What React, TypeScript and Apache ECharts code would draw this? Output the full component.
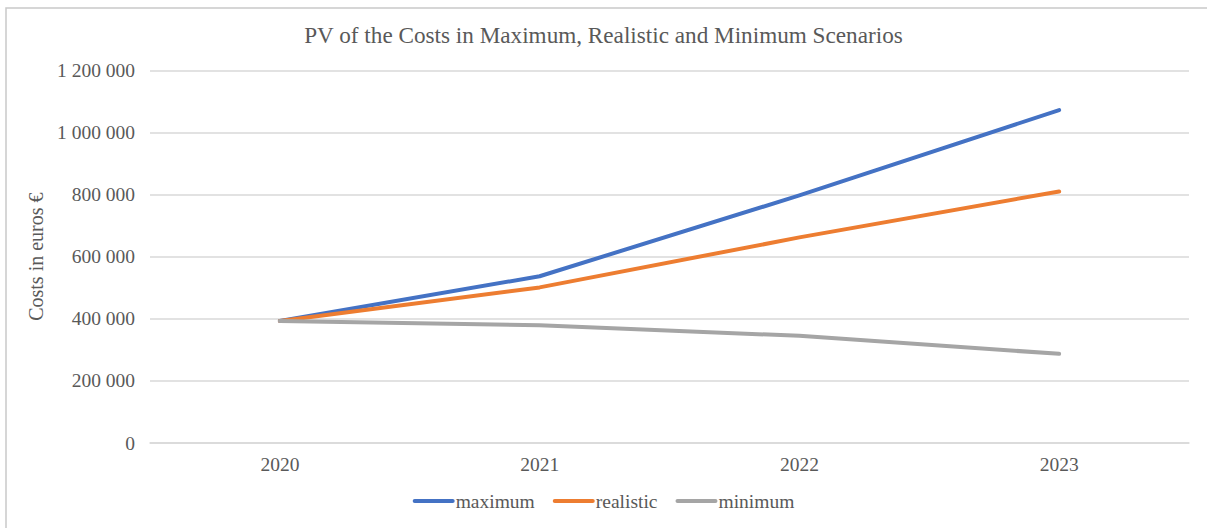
import React, { useEffect, useRef } from "react";
import * as echarts from "echarts";

const years = ["2020", "2021", "2022", "2023"];
const maximum = [393000, 537000, 797000, 1072000];
const realistic = [393000, 501000, 662000, 810000];
const minimum = [393000, 379000, 345000, 287000];

const FONT = "'Liberation Serif', 'Times New Roman', serif";
const TEXT = "#595959";

function spaced(v: number): string {
  return String(v).replace(/\B(?=(\d{3})+(?!\d))/g, " ");
}

export default function App() {
  const ref = useRef<HTMLDivElement>(null);

  useEffect(() => {
    if (!ref.current) return;
    const chart = echarts.init(ref.current, undefined, { renderer: "svg" });
    const line = (name: string, data: number[], color: string) => ({
      name,
      type: "line",
      data,
      symbol: "none",
      color,
      lineStyle: { width: 4, color, cap: "round", join: "round" },
    });
    chart.setOption({
      animation: false,
      backgroundColor: "#ffffff",
      textStyle: { fontFamily: FONT },
      title: {
        text: "PV of the Costs in Maximum, Realistic and Minimum Scenarios",
        left: "center",
        top: 18,
        textStyle: { fontFamily: FONT, fontSize: 23.2, fontWeight: "normal", color: TEXT },
      },
      graphic: [
        {
          type: "rect",
          shape: { x: 6, y: 8, width: 1300, height: 600 },
          style: { fill: "none", stroke: "#C9C9C9", lineWidth: 1.5 },
          silent: true,
        },
      ],
      grid: { left: 150, right: 18, top: 70.3, bottom: 85 },
      legend: {
        bottom: 12,
        left: "center",
        itemWidth: 38,
        itemHeight: 14,
        itemGap: 18,
        itemStyle: { opacity: 0 },
        lineStyle: { width: 4, cap: "round" },
        textStyle: { fontFamily: FONT, fontSize: 19.5, color: TEXT, padding: [0, 0, 0, -2] },
        data: ["maximum", "realistic", "minimum"],
      },
      xAxis: {
        type: "category",
        data: years,
        boundaryGap: true,
        axisLine: { show: true, lineStyle: { color: "#D9D9D9", width: 1.5 } },
        axisTick: { show: false },
        axisLabel: { fontFamily: FONT, fontSize: 19.5, color: TEXT, margin: 11 },
      },
      yAxis: {
        type: "value",
        min: 0,
        max: 1200000,
        interval: 200000,
        name: "Costs in euros €",
        nameLocation: "middle",
        nameGap: 99,
        nameTextStyle: { fontFamily: FONT, fontSize: 20, color: TEXT },
        axisLine: { show: false },
        axisTick: { show: false },
        axisLabel: {
          fontFamily: FONT,
          fontSize: 19.5,
          color: TEXT,
          margin: 15,
          formatter: (v: number) => spaced(v),
        },
        splitLine: { lineStyle: { color: "#D9D9D9", width: 1.5 } },
      },
      series: [
        line("maximum", maximum, "#4472C4"),
        line("realistic", realistic, "#ED7D31"),
        line("minimum", minimum, "#A5A5A5"),
      ],
    });
    return () => chart.dispose();
  }, []);

  return (
    <div
      ref={ref}
      style={{ position: "fixed", left: 0, top: 0, width: 1207, height: 528 }}
    />
  );
}
